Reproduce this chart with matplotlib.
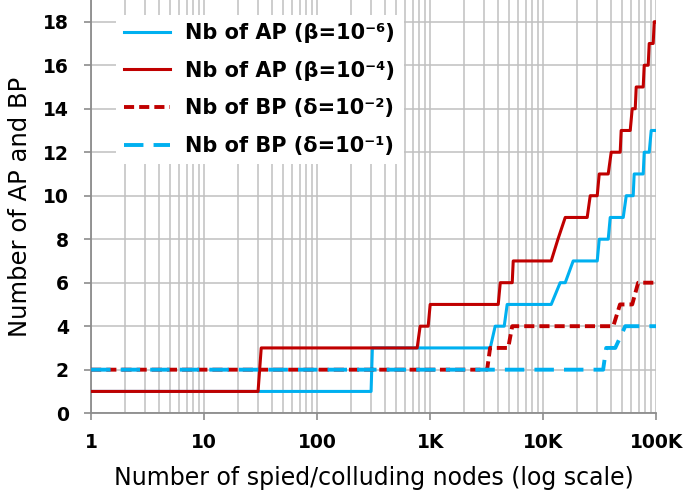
import matplotlib
matplotlib.use('Agg')
import matplotlib.pyplot as plt
import numpy as np
from matplotlib.ticker import FixedLocator, NullFormatter

plt.rcParams['font.family'] = ['DejaVu Sans']

# Data (step curves)
ap_b6_x = [1, 300, 308, 3400, 3760, 4520, 4800, 11770, 14130, 15660, 18420, 30060,
           31330, 37600, 39170, 51050, 54290, 62540, 63800, 76700, 78300, 86700,
           90300, 100000]
ap_b6_y = [1, 1, 3, 3, 4, 4, 5, 5, 6, 6, 7, 7, 8, 8, 9, 9, 10, 10, 11, 11, 12, 12, 13, 13]

ap_b4_x = [1, 30, 32, 767, 815, 960, 1000, 4000, 4170, 5320, 5430, 11770, 13500,
           15660, 24500, 26060, 30060, 31300, 37600, 39960, 48000, 48970, 58870,
           61300, 65200, 66500, 76700, 78300, 84900, 86700, 94000, 96000, 100000]
ap_b4_y = [1, 1, 3, 3, 4, 4, 5, 5, 6, 6, 7, 7, 8, 9, 9, 10, 10, 11, 11, 12, 12, 13, 13,
           14, 14, 15, 15, 16, 16, 17, 17, 18, 18]

bp_d2_x = [1, 3190, 3390, 4900, 5320, 41700, 47800, 61300, 69200, 100000]
bp_d2_y = [2, 2, 3, 3, 4, 4, 5, 5, 6, 6]

bp_d1_x = [1, 33900, 36100, 43400, 53200, 100000]
bp_d1_y = [2, 2, 3, 3, 4, 4]

labels = ['Nb of AP (β=10⁻⁶)', 'Nb of AP (β=10⁻⁴)',
          'Nb of BP (δ=10⁻²)', 'Nb of BP (δ=10⁻¹)']

x_ticks = [1, 10, 100, 1000, 10000, 100000]
x_tick_labels = ['1', '10', '100', '1K', '10K', '100K']
y_ticks = list(range(0, 19, 2))

blue = '#00B0F0'
red = '#C00000'

fig = plt.figure(figsize=(6.85, 4.99), dpi=100)
ax = fig.add_axes([0.133, 0.172, 0.825, 0.828])

ax.plot(ap_b6_x, ap_b6_y, color=blue, lw=2.2, label=labels[0], zorder=3)
ax.plot(ap_b4_x, ap_b4_y, color=red, lw=2.2, label=labels[1], zorder=3)
ax.plot(bp_d2_x, bp_d2_y, color=red, lw=2.8, dashes=(2.6, 1.3), label=labels[2], zorder=4)
ax.plot(bp_d1_x, bp_d1_y, color=blue, lw=2.8, dashes=(5, 2.6), label=labels[3], zorder=5)

ax.set_xscale('log')
ax.set_xlim(1, 100000)
ax.set_ylim(0, 19.0)
ax.xaxis.set_major_locator(FixedLocator(x_ticks))
ax.set_xticklabels(x_tick_labels)
ax.xaxis.set_minor_locator(FixedLocator([m * 10**e for e in range(5) for m in range(2, 10)]))
ax.xaxis.set_minor_formatter(NullFormatter())
ax.set_yticks(y_ticks)

ax.grid(True, which='both', axis='x', color='#C0C0C0', lw=1.1)
ax.grid(True, which='major', axis='y', color='#C0C0C0', lw=1.1)
ax.set_axisbelow(True)

for s in ['top', 'right']:
    ax.spines[s].set_visible(False)
for s in ['left', 'bottom']:
    ax.spines[s].set_color('#8C8C8C')
    ax.spines[s].set_linewidth(1.3)

ax.tick_params(axis='both', which='major', direction='out', length=5, width=1.2,
               color='#8C8C8C', labelsize=13.5)
ax.tick_params(axis='y', pad=11)
ax.tick_params(axis='x', pad=9)
ax.tick_params(axis='x', which='minor', length=0)
for t in ax.get_xticklabels() + ax.get_yticklabels():
    t.set_fontweight('bold')

ax.set_xlabel('Number of spied/colluding nodes (log scale)', fontsize=17, labelpad=10)
ax.set_ylabel('Number of AP and BP', fontsize=17.5, labelpad=8)

leg = ax.legend(loc='upper left', bbox_to_anchor=(0.025, 0.99), frameon=True,
                prop={'weight': 'bold', 'size': 15}, handlelength=2.2,
                labelspacing=0.85, borderpad=0.4, handletextpad=0.75)
leg.get_frame().set_facecolor('white')
leg.get_frame().set_edgecolor('none')
leg.get_frame().set_alpha(1.0)

fig.savefig('out.png', dpi=100)
